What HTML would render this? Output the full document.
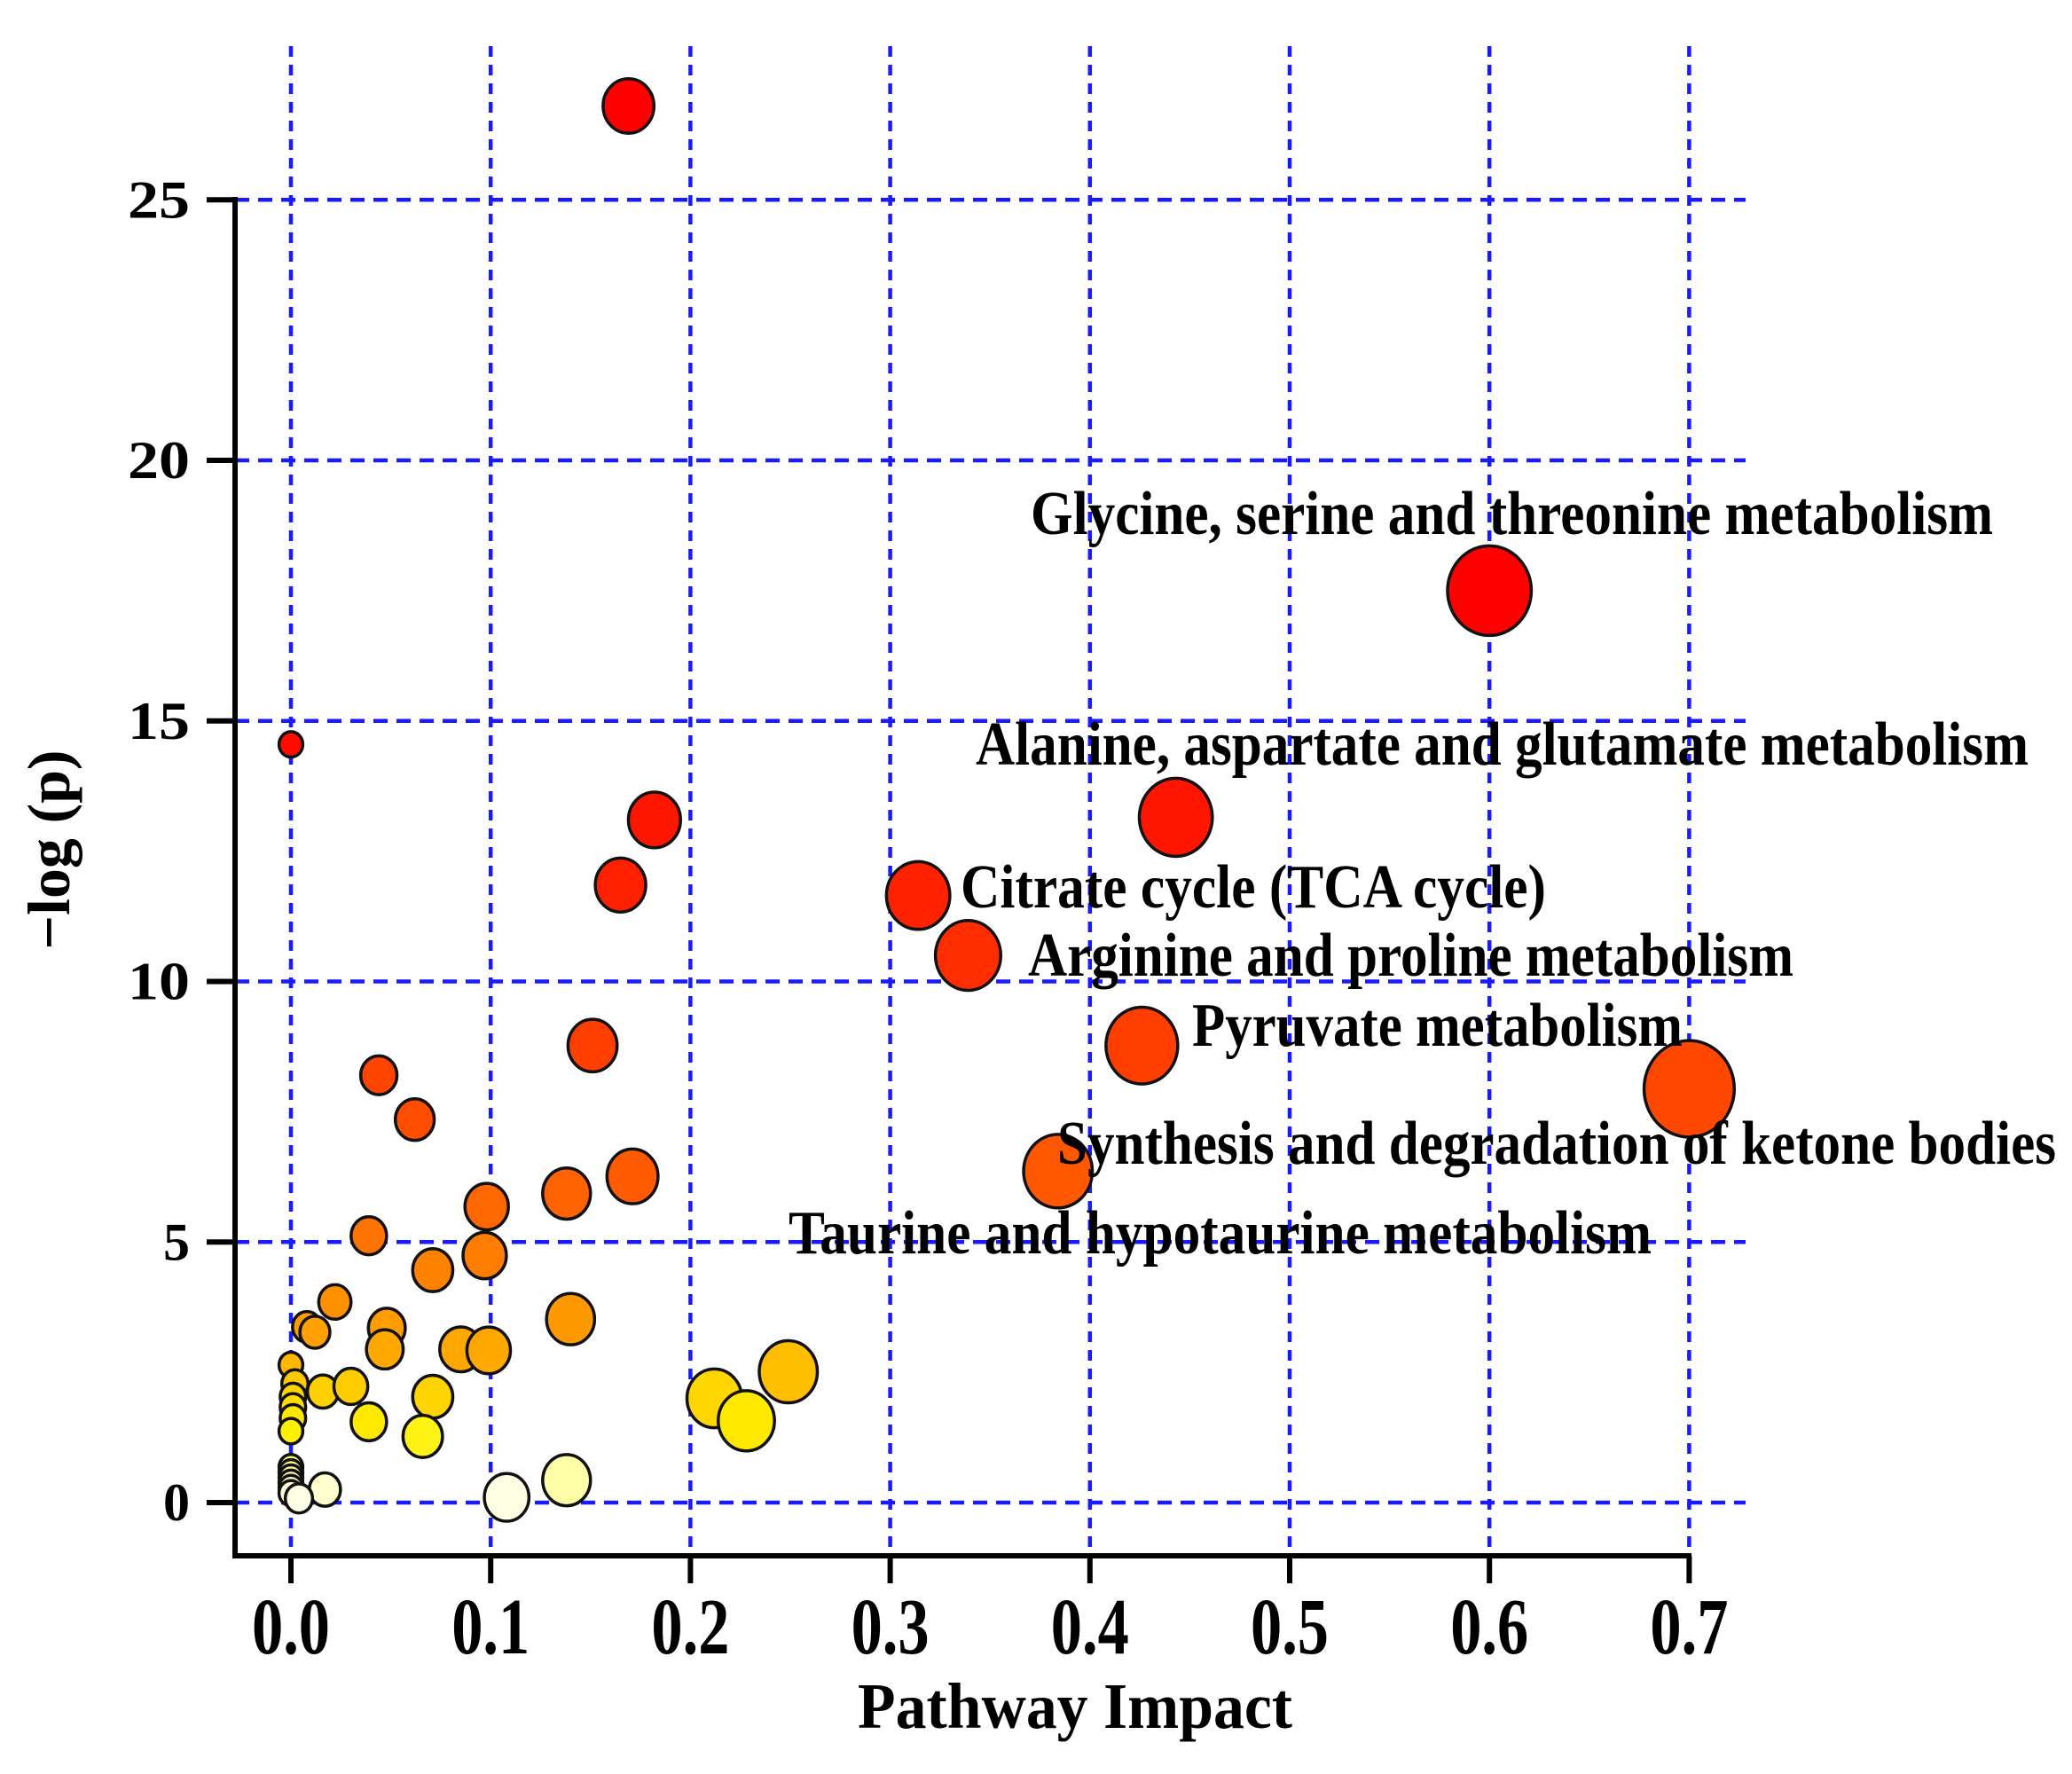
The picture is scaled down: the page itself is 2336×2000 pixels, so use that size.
<!DOCTYPE html>
<html><head><meta charset="utf-8"><style>
html,body{margin:0;padding:0;background:#fff;}
svg{display:block;}
text{font-family:"Liberation Serif",serif;font-weight:bold;fill:#000;}
</style></head><body>
<svg id="chart" width="2336" height="2000" viewBox="0 0 2336 2000" xmlns="http://www.w3.org/2000/svg">
<g id="grid"></g>
<g id="axes"></g>
<g id="points"></g>
<g id="labels"></g>
<text transform="translate(1212,1948) scale(1,1.15)" x="0" y="0" font-size="64" text-anchor="middle" textLength="490" lengthAdjust="spacingAndGlyphs">Pathway Impact</text>
<text transform="translate(78,958) rotate(-90) scale(1,1.1)" font-size="62" text-anchor="middle" textLength="225" lengthAdjust="spacingAndGlyphs">−log (p)</text>
</svg>
<script>
const impacts = [0.169,0.600,0.000,0.182,0.443,0.165,0.314,0.339,0.151,0.426,0.700,0.044,0.062,0.171,0.384,0.138,0.098,0.039,0.097,0.071,0.022,0.140,0.008,0.012,0.048,0.047,0.085,0.099,0.249,0.212,0.228,0.000,0.002,0.001,0.001,0.001,0.000,0.016,0.030,0.071,0.039,0.066,0.000,0.000,0.000,0.000,0.000,0.000,0.017,0.138,0.108,0.004];
const logP = [26.8,17.5,14.55,13.1,13.15,11.85,11.65,10.5,8.77,8.77,7.94,8.2,7.35,6.26,6.36,5.93,5.68,5.12,4.74,4.46,3.85,3.52,3.37,3.27,3.35,2.94,2.94,2.92,2.51,2.0,1.57,2.64,2.28,2.03,1.83,1.62,1.37,2.13,2.23,2.03,1.55,1.27,0.68,0.58,0.48,0.38,0.28,0.18,0.25,0.43,0.10,0.08];
const xTicks = ["0.0","0.1","0.2","0.3","0.4","0.5","0.6","0.7"];
const xTickValues = [0,0.1,0.2,0.3,0.4,0.5,0.6,0.7];
const yTicks = ["0","5","10","15","20","25"];
const yTickValues = [0,5,10,15,20,25];
const labelNames = ["Glycine, serine and threonine metabolism","Alanine, aspartate and glutamate metabolism","Citrate cycle (TCA cycle)","Arginine and proline metabolism","Pyruvate metabolism","Synthesis and degradation of ketone bodies","Taurine and hypotaurine metabolism"];

const NS="http://www.w3.org/2000/svg";
const X = v => 328 + v*2252;
const Y = v => 1694 - v*58.75;
function mk(tag, parent, attrs){const e=document.createElementNS(NS,tag);for(const k in attrs)e.setAttribute(k,attrs[k]);parent.appendChild(e);return e;}
const grid=document.getElementById('grid'), axes=document.getElementById('axes'), pts=document.getElementById('points'), lab=document.getElementById('labels');

xTickValues.forEach((v,i)=>{
  const l=mk('line',grid,{x1:X(v),x2:X(v),y1:52,y2:1754,stroke:'#1a1aff','stroke-width':4.5,'stroke-dasharray':'12 9'});
  
  
  const t=mk('line',axes,{x1:X(v),x2:X(v),y1:1754,y2:1785,stroke:'#000','stroke-width':6});
  
  
  const tx=mk('text',axes,{transform:'translate('+X(v)+',1864) scale(1,1.4)',x:0,y:0,'font-size':64,'text-anchor':'middle',textLength:88,lengthAdjust:'spacingAndGlyphs'});
  tx.textContent=xTicks[i];
  
  
});
yTickValues.forEach((v,i)=>{
  const l=mk('line',grid,{x1:265,x2:1968,y1:Y(v),y2:Y(v),stroke:'#1a1aff','stroke-width':4.5,'stroke-dasharray':'16 10'});
  
  
  const t=mk('line',axes,{x1:233,x2:265,y1:Y(v),y2:Y(v),stroke:'#000','stroke-width':6});
  
  
  const tx=mk('text',axes,{x:214,y:Y(v)+20,'font-size':60,'text-anchor':'end'});
  if(yTicks[i].length==2){tx.setAttribute('textLength',70);tx.setAttribute('lengthAdjust','spacingAndGlyphs');}
  tx.textContent=yTicks[i];
  
  
});
const ya=mk('line',axes,{x1:265,x2:265,y1:222,y2:1757,stroke:'#000','stroke-width':6});


const xa=mk('line',axes,{x1:262,x2:1907,y1:1754,y2:1754,stroke:'#000','stroke-width':6});



function colorFor(p){
  const stops=[[0,[255,255,240]],[0.3,[255,255,200]],[0.6,[255,255,130]],[1.4,[255,240,0]],[2.2,[255,205,0]],[3.0,[255,165,0]],[4.5,[255,130,0]],[6.5,[255,85,0]],[9,[255,60,0]],[12,[255,30,0]],[16,[255,0,0]],[30,[255,0,0]]];
  for(let i=1;i<stops.length;i++){if(p<=stops[i][0]){const a=stops[i-1],b=stops[i];const t=(p-a[0])/(b[0]-a[0]);const c=a[1].map((x,j)=>Math.round(x+(b[1][j]-x)*t));return 'rgb('+c.join(',')+')';}}
  return 'rgb(255,0,0)';
}
impacts.forEach((v,i)=>{
  const r=(9+20*Math.sqrt(v)+12*v)*1.49;
  const e=mk('ellipse',pts,{cx:X(v),cy:Y(logP[i]),rx:r,ry:r*1.07,fill:colorFor(logP[i]),stroke:'#111','stroke-width':3.5});
  
  
});
const labelPos=[[1162,602,1085],[1100,862,1187],[1083,1023,660],[1159,1100,863],[1344,1179,553],[1192,1312,1126],[889,1413,973]];
labelNames.forEach((n,i)=>{
  const p=labelPos[i];
  const t=mk('text',lab,{transform:'translate('+p[0]+','+p[1]+') scale(1,1.25)',x:0,y:0,'font-size':56,textLength:p[2],lengthAdjust:'spacingAndGlyphs'});
  t.textContent=n;
  
  
});
</script>
</body></html>
